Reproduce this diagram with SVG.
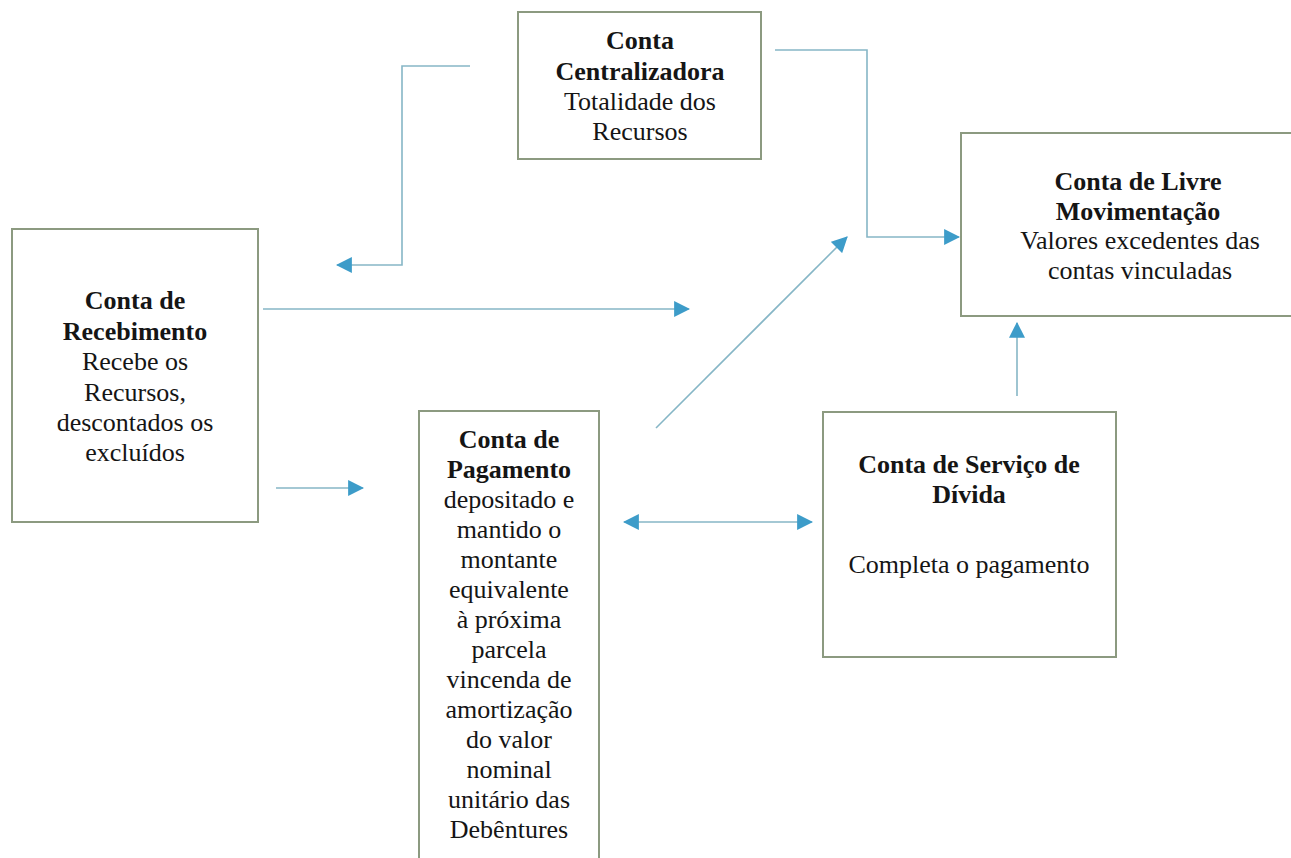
<svg xmlns="http://www.w3.org/2000/svg" width="1291" height="858" viewBox="0 0 1291 858">
<defs>
<style>
.box{fill:#fff;stroke:#8c9a80;stroke-width:2}
.t{font-family:"Liberation Serif","Times New Roman",serif;font-size:26px;fill:#151515;text-anchor:middle}
.b{font-weight:bold}
.c{fill:none;stroke:#86b6c6;stroke-width:1.6}
</style>
<marker id="ah" markerUnits="userSpaceOnUse" markerWidth="16" markerHeight="16" viewBox="0 0 14 14" refX="13" refY="7" orient="auto-start-reverse">
<path d="M0,0 L14,7 L0,14 Z" fill="#3d9cc9"/>
</marker>
</defs>
<rect width="1291" height="858" fill="#fff"/>
<g id="connectors">
<polyline class="c" points="470,66 402,66 402,265 337,265" marker-end="url(#ah)"/>
<polyline class="c" points="775,50 867,50 867,237 959,237" marker-end="url(#ah)"/>
<line class="c" x1="263" y1="309" x2="689" y2="309" marker-end="url(#ah)"/>
<line class="c" x1="276" y1="488" x2="363" y2="488" marker-end="url(#ah)"/>
<line class="c" x1="656" y1="428" x2="847" y2="237" marker-end="url(#ah)"/>
<line class="c" x1="624" y1="522" x2="812" y2="522" marker-start="url(#ah)" marker-end="url(#ah)"/>
<line class="c" x1="1017" y1="396" x2="1017" y2="323" marker-end="url(#ah)"/>
</g>
<g id="centralizadora">
<rect class="box" x="518" y="12" width="243" height="147"/>
<text class="t b" x="640" y="49">Conta</text>
<text class="t b" x="640" y="80">Centralizadora</text>
<text class="t" x="640" y="110">Totalidade dos</text>
<text class="t" x="640" y="140">Recursos</text>
</g>
<g id="livre">
<rect class="box" x="961" y="133" width="340" height="183"/>
<text class="t b" x="1138" y="190">Conta de Livre</text>
<text class="t b" x="1138" y="220">Movimentação</text>
<text class="t" x="1140" y="249">Valores excedentes das</text>
<text class="t" x="1140" y="279">contas vinculadas</text>
</g>
<g id="recebimento">
<rect class="box" x="12" y="229" width="246" height="293"/>
<text class="t b" x="135" y="309">Conta de</text>
<text class="t b" x="135" y="340">Recebimento</text>
<text class="t" x="135" y="370">Recebe os</text>
<text class="t" x="135" y="401">Recursos,</text>
<text class="t" x="135" y="431">descontados os</text>
<text class="t" x="135" y="461">excluídos</text>
</g>
<g id="pagamento">
<rect class="box" x="419" y="411" width="180" height="470"/>
<text class="t b" x="509" y="448">Conta de</text>
<text class="t b" x="509" y="478">Pagamento</text>
<text class="t" x="509" y="508">depositado e</text>
<text class="t" x="509" y="538">mantido o</text>
<text class="t" x="509" y="568">montante</text>
<text class="t" x="509" y="598">equivalente</text>
<text class="t" x="509" y="628">à próxima</text>
<text class="t" x="509" y="658">parcela</text>
<text class="t" x="509" y="688">vincenda de</text>
<text class="t" x="509" y="718">amortização</text>
<text class="t" x="509" y="748">do valor</text>
<text class="t" x="509" y="778">nominal</text>
<text class="t" x="509" y="808">unitário das</text>
<text class="t" x="509" y="838">Debêntures</text>
</g>
<g id="servico">
<rect class="box" x="823" y="412" width="293" height="245"/>
<text class="t b" x="969" y="473">Conta de Serviço de</text>
<text class="t b" x="969" y="503">Dívida</text>
<text class="t" x="969" y="573">Completa o pagamento</text>
</g>
</svg>
